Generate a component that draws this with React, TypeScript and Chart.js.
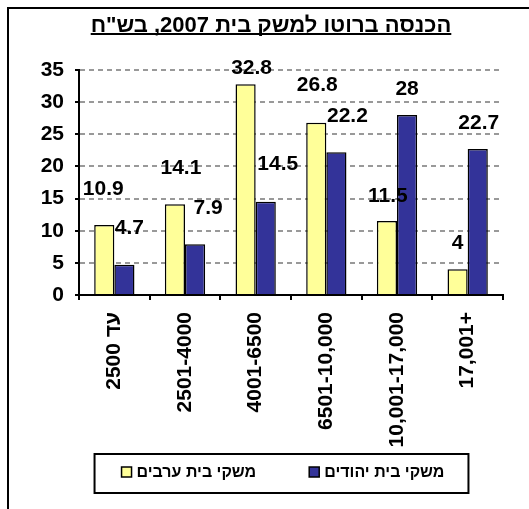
import React, { useEffect, useRef } from "react";
import { Chart, registerables } from "chart.js";

Chart.register(...registerables);

const titleText = 'הכנסה ברוטו למשק בית 2007, בש"ח';
const categories = ["\u202Bעד 2500\u202C", "2501-4000", "4001-6500", "6501-10,000", "10,001-17,000", "17,001+"];
const arabValues = [10.9, 14.1, 32.8, 26.8, 11.5, 4];
const jewishValues = [4.7, 7.9, 14.5, 22.2, 28, 22.7];
const seriesNames = ["משקי בית ערבים", "משקי בית יהודים"];
const seriesColors = ["#FFFF99", "#333399"];
const yTicks = [0, 5, 10, 15, 20, 25, 30, 35];

// label placement styling (offset from bar top, px)
const labelShiftX = [
  [-1, 6, 6, 1, 1, 0],
  [5, 13, 12, 11, 0, 1],
];
const labelLift = [
  [36, 36, 16, 38, 25, 26],
  [37, 36, 38, 36, 26, 26],
];

const FONT = "'Liberation Sans', Arial, sans-serif";
const PAD_LEFT = 0;

const decorPlugin = {
  id: "decor",
  afterDatasetsDraw(chart: any) {
    const ctx = chart.ctx;
    ctx.save();
    ctx.font = `bold 21px ${FONT}`;
    ctx.fillStyle = "#000";
    ctx.textAlign = "center";
    ctx.textBaseline = "middle";
    chart.data.datasets.forEach((ds: any, di: number) => {
      const meta = chart.getDatasetMeta(di);
      meta.data.forEach((el: any, i: number) => {
        ctx.fillText(String(ds.data[i]), el.x + labelShiftX[di][i], el.y - labelLift[di][i]);
      });
    });
    ctx.restore();
  },
  afterDraw(chart: any) {
    const ctx = chart.ctx;
    ctx.save();
    // title
    ctx.font = `bold 22px ${FONT}`;
    ctx.fillStyle = "#000";
    ctx.textAlign = "center";
    ctx.textBaseline = "alphabetic";
    const tx = 271;
    const ty = 32;
    ctx.fillText(titleText, tx, ty);
    const tw = ctx.measureText(titleText).width;
    ctx.fillRect(tx - tw / 2, ty + 1, tw, 2);

    // legend
    ctx.font = `bold 16px ${FONT}`;
    const box = 10;
    const gapText = 5;
    const gapItem = 53;
    const items = chart.data.datasets.map((ds: any) => ({
      label: ds.label,
      color: ds.backgroundColor,
      w: ctx.measureText(ds.label).width,
    }));
    const total = items.reduce((s: number, it: any) => s + box + gapText + it.w, 0) + gapItem * (items.length - 1);
    const cx = 283;
    let x = cx - total / 2;
    const start = x;
    const baseY = 477;
    ctx.textAlign = "left";
    ctx.textBaseline = "alphabetic";
    items.forEach((it: any) => {
      ctx.fillStyle = it.color;
      ctx.fillRect(x, baseY - 10, box, box);
      ctx.strokeStyle = "#000";
      ctx.lineWidth = 1.5;
      ctx.strokeRect(x, baseY - 10, box, box);
      ctx.fillStyle = "#000";
      ctx.fillText(it.label, x + box + gapText, baseY);
      x += box + gapText + it.w + gapItem;
    });
    const end = x - gapItem;
    ctx.lineWidth = 2;
    ctx.strokeStyle = "#000";
    ctx.strokeRect(start - 27, 454, end - start + 27 + 24, 39);
    ctx.restore();
  },
};

export default function App() {
  const ref = useRef<HTMLCanvasElement | null>(null);
  useEffect(() => {
    if (!ref.current) return;
    const chart = new Chart(ref.current, {
      type: "bar",
      data: {
        labels: categories,
        datasets: [
          {
            label: seriesNames[0],
            data: arabValues,
            backgroundColor: seriesColors[0],
            borderColor: "#000",
            borderWidth: 1.5,
            categoryPercentage: 0.57,
            barPercentage: 1,
          },
          {
            label: seriesNames[1],
            data: jewishValues,
            backgroundColor: seriesColors[1],
            borderColor: "#000",
            borderWidth: 1.5,
            categoryPercentage: 0.57,
            barPercentage: 1,
          },
        ],
      },
      options: {
        animation: false,
        responsive: false,
        devicePixelRatio: 1,
        layout: { padding: { left: PAD_LEFT, right: 26, top: 70, bottom: 0 } },
        plugins: {
          legend: { display: false },
          title: { display: false },
          tooltip: { enabled: false },
        },
        scales: {
          x: {
            offset: true,
            grid: {
              display: true,
              offset: true,
              drawOnChartArea: false,
              drawTicks: true,
              tickLength: 5,
              tickColor: "#000",
              tickWidth: 2,
              color: "#000",
              lineWidth: 2,
            },
            border: { display: true, color: "#000", width: 2 },
            ticks: {
              autoSkip: false,
              maxRotation: 90,
              minRotation: 90,
              padding: 12,
              color: "#000",
              font: { family: FONT, size: 21, weight: "bold" },
            },
            afterFit(scale: any) {
              scale.height = 214;
            },
          },
          y: {
            min: 0,
            max: 35,
            grid: {
              color: "#999999",
              lineWidth: 2,
              drawTicks: true,
              tickLength: 4,
              tickColor: "#000",
              tickWidth: 2,
              tickBorderDash: [],
            },
            border: { display: true, color: "#000", width: 2, dash: [5, 4] },
            ticks: {
              padding: 11,
              color: "#000",
              font: { family: FONT, size: 21, weight: "bold" },
            },
            afterBuildTicks(scale: any) {
              scale.ticks = yTicks.map((v) => ({ value: v }));
            },
            afterFit(scale: any) {
              scale.width = 79 - PAD_LEFT;
            },
          },
        },
      },
      plugins: [decorPlugin],
    });
    return () => chart.destroy();
  }, []);

  return (
    <div>
      <div
        style={{
          position: "fixed",
          left: 7,
          top: 7,
          right: -20,
          bottom: -20,
          borderLeft: "2px solid #000",
          borderTop: "2px solid #000",
        }}
      />
      <canvas
        ref={ref}
        width={529}
        height={509}
        style={{ position: "fixed", left: 0, top: 0, width: 529, height: 509, display: "block" }}
      />
    </div>
  );
}
